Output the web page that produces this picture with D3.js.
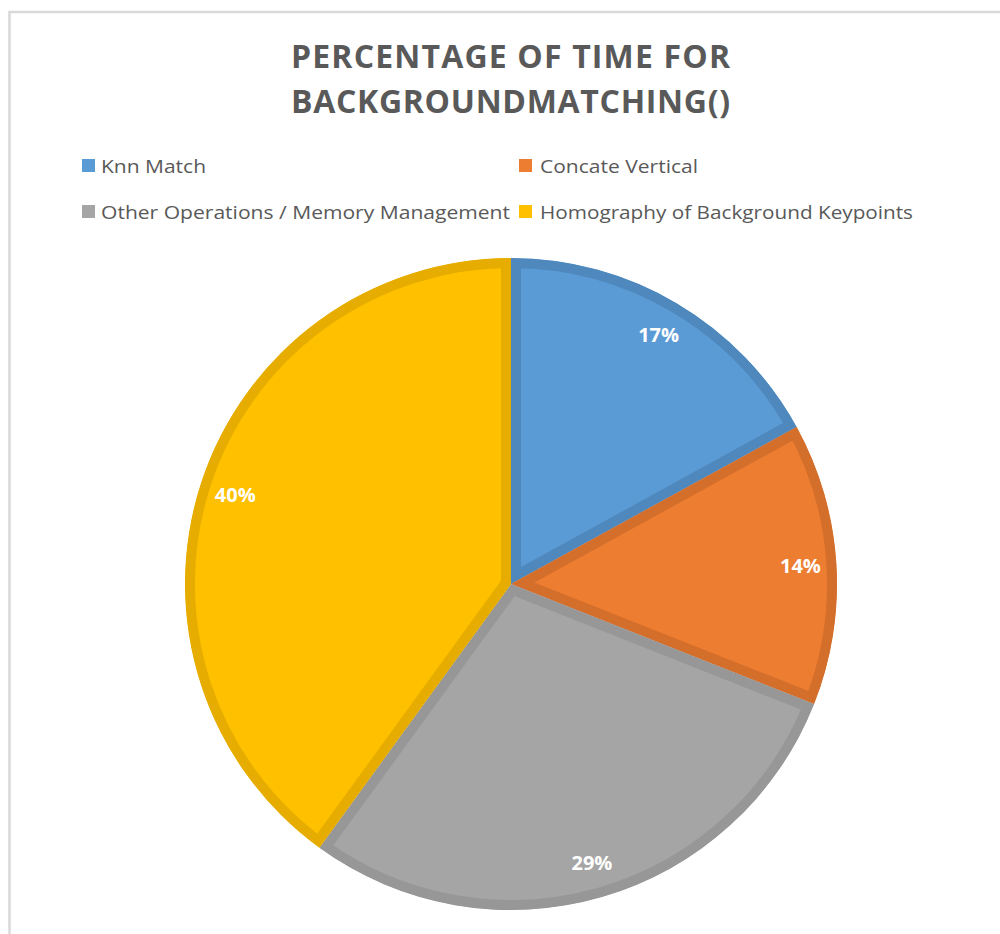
<!DOCTYPE html>
<html>
<head>
<meta charset="utf-8">
<script src="https://cdn.jsdelivr.net/npm/d3@7/dist/d3.min.js"></script>
<style>
  html, body { margin: 0; padding: 0; background: #fff; }
  svg { display: block; }
</style>
</head>
<body>
<svg id="chart" width="1000" height="934"></svg>
<script>
// ---- data ----
const titleLines = ["PERCENTAGE OF TIME FOR", "BACKGROUNDMATCHING()"];
const categories = ["Knn Match", "Concate Vertical", "Other Operations / Memory Management", "Homography of Background Keypoints"];
const values = [17, 14, 29, 40];
const labels = ["17%", "14%", "29%", "40%"];

// ---- styles ----
const fills = ["#5B9BD5", "#ED7D31", "#A5A5A5", "#FFC000"];
const borders = ["#4E88BD", "#D46E2B", "#979797", "#E6AD00"];
const textColor = "#595959";
const font = "'Open Sans', 'Noto Sans', 'Liberation Sans', sans-serif";

const svg = d3.select("#chart");

// chart area border (top + left visible)
svg.append("path")
  .attr("d", "M9.5,1000 L9.5,12 L1000,12")
  .attr("fill", "none")
  .attr("stroke", "#D9D9D9")
  .attr("stroke-width", 2.5);

// title
const title = svg.append("g");
titleLines.forEach((t, i) => {
  const el = title.append("text")
    .attr("x", 510.5)
    .attr("y", 68 + i * 45)
    .attr("text-anchor", "middle")
    .attr("font-family", font)
    .attr("font-weight", "bold")
    .attr("font-size", 32)
    .attr("fill", textColor)
    .text(t);
  const w = el.node().getComputedTextLength();
  const target = 439;
  el.attr("textLength", target).attr("lengthAdjust", w > target ? "spacingAndGlyphs" : "spacing");
});

// legend
const legendPos = [
  {x: 82, y: 159, tx: 101, tw: 105},
  {x: 519, y: 159, tx: 540, tw: 158},
  {x: 82, y: 205, tx: 101, tw: 409},
  {x: 519, y: 205, tx: 540, tw: 373}
];
const legend = svg.append("g");
categories.forEach((c, i) => {
  const p = legendPos[i];
  legend.append("rect")
    .attr("x", p.x).attr("y", p.y)
    .attr("width", 13).attr("height", 13)
    .attr("fill", fills[i]);
  const el = legend.append("text")
    .attr("x", p.tx)
    .attr("y", p.y + 13.5)
    .attr("font-family", font)
    .attr("font-size", 19)
    .attr("fill", textColor)
    .text(c);
  const w = el.node().getComputedTextLength();
  if (Math.abs(w - p.tw) > 2) {
    el.attr("textLength", p.tw).attr("lengthAdjust", "spacingAndGlyphs");
  }
});

// pie
const cx = 511, cy = 584, R = 326;
const pie = d3.pie().sort(null).value(d => d)(values);
const arc = d3.arc().innerRadius(0).outerRadius(R);
const labelArc = d3.arc().innerRadius(290).outerRadius(290);

const g = svg.append("g").attr("transform", `translate(${cx},${cy})`);
const defs = svg.append("defs");

pie.forEach((d, i) => {
  defs.append("clipPath").attr("id", "clip" + i)
    .append("path").attr("d", arc(d));
});

g.selectAll("path.slice")
  .data(pie)
  .join("path")
  .attr("class", "slice")
  .attr("d", d => arc(d))
  .attr("fill", (d, i) => fills[i])
  .attr("stroke", (d, i) => borders[i])
  .attr("stroke-width", 20)
  .attr("stroke-linejoin", "miter")
  .attr("clip-path", (d, i) => `url(#clip${i})`);

g.selectAll("text.lbl")
  .data(pie)
  .join("text")
  .attr("class", "lbl")
  .attr("transform", d => `translate(${labelArc.centroid(d)})`)
  .attr("text-anchor", "middle")
  .attr("dy", "0.36em")
  .attr("font-family", font)
  .attr("font-weight", "bold")
  .attr("font-size", 20)
  .attr("fill", "#FFFFFF")
  .text((d, i) => labels[i]);
</script>
</body>
</html>
